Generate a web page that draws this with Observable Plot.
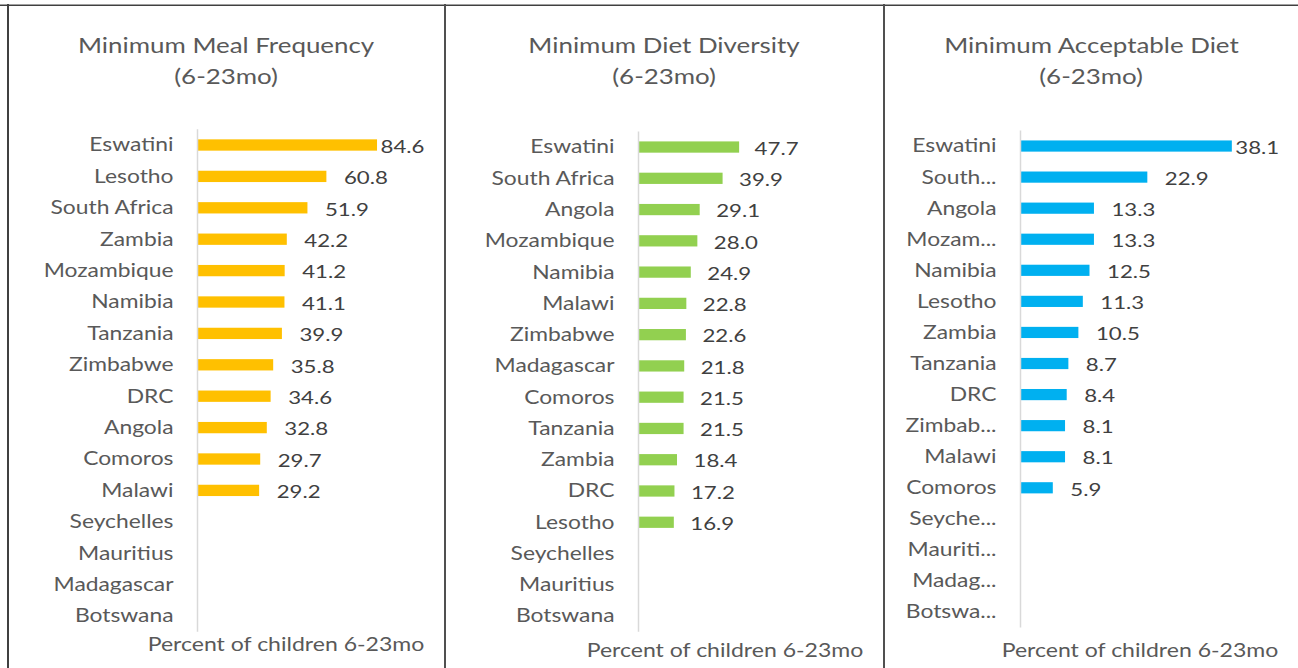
<!DOCTYPE html>
<html>
<head>
<meta charset="utf-8">
<script src="https://cdn.jsdelivr.net/npm/d3@7"></script>
<script src="https://cdn.jsdelivr.net/npm/@observablehq/plot@0.6"></script>
<style>
  html, body { margin: 0; padding: 0; background: #fff; width: 1298px; height: 668px; overflow: hidden; }
  body { position: relative; font-family: Lato, "Open Sans", sans-serif; color: #595959; }
  .panel { position: absolute; top: 0; height: 668px; }
  .panel svg { position: absolute; left: 0; top: 0; }
  .title { position: absolute; left: 0; right: 0; top: 29px; text-align: center; font-size: 21px; line-height: 31px; color: #595959; }
  .title span { display: inline-block; transform: scaleX(1.233); white-space: nowrap; }
  .caption { position: absolute; font-size: 18.5px; color: #595959; white-space: nowrap; transform: translateX(-50%) scaleX(1.245); }
  .line { position: absolute; background: #444; }
</style>
</head>
<body>
<script>
// ---- Data ----
const mmfCountries = ["Eswatini","Lesotho","South Africa","Zambia","Mozambique","Namibia","Tanzania","Zimbabwe","DRC","Angola","Comoros","Malawi","Seychelles","Mauritius","Madagascar","Botswana"];
const mmfValues = [84.6,60.8,51.9,42.2,41.2,41.1,39.9,35.8,34.6,32.8,29.7,29.2,null,null,null,null];

const mddCountries = ["Eswatini","South Africa","Angola","Mozambique","Namibia","Malawi","Zimbabwe","Madagascar","Comoros","Tanzania","Zambia","DRC","Lesotho","Seychelles","Mauritius","Botswana"];
const mddValues = [47.7,39.9,29.1,28.0,24.9,22.8,22.6,21.8,21.5,21.5,18.4,17.2,16.9,null,null,null];

const madCountries = ["Eswatini","South Africa","Angola","Mozambique","Namibia","Lesotho","Zambia","Tanzania","DRC","Zimbabwe","Malawi","Comoros","Seychelles","Mauritius","Madagascar","Botswana"];
const madTickLabels = ["Eswatini","South...","Angola","Mozam...","Namibia","Lesotho","Zambia","Tanzania","DRC","Zimbab...","Malawi","Comoros","Seyche...","Mauriti...","Madag...","Botswa..."];
const madValues = [38.1,22.9,13.3,13.3,12.5,11.3,10.5,8.7,8.4,8.1,8.1,5.9,null,null,null,null];

const titles = ["Minimum Meal Frequency", "Minimum Diet Diversity", "Minimum Acceptable Diet"];
const subtitle = "(6-23mo)";
const axisLabel = "Percent of children 6-23mo";

const panels = [
  {countries: mmfCountries, values: mmfValues, ticks: null, color: "#FFC000", title: titles[0],
   left: 8, width: 436, marginLeft: 189, xmax: 100, marginTop: 129.3, marginBottom: 36.3, topDx: 3, dx: 17, capX: 286, capY: 633},
  {countries: mddCountries, values: mddValues, ticks: null, color: "#92D050", title: titles[1],
   left: 445, width: 438, marginLeft: 193, xmax: 100, marginTop: 131.4, marginBottom: 36.3, topDx: 15, dx: 16, capX: 725, capY: 639},
  {countries: madCountries, values: madValues, ticks: madTickLabels, color: "#00B0F0", title: titles[2],
   left: 884, width: 414, marginLeft: 136, xmax: 40, marginTop: 130.5, marginBottom: 40.4, topDx: 3, dx: 17, capX: 1140, capY: 639}
];

const pxPerUnit = [2.128, 2.12, 5.56];
const TEXT_STRETCH = 1.235;

function stretchTexts(svg, s) {
  svg.querySelectorAll("text").forEach(t => {
    const tr = t.getAttribute("transform") || "";
    let x = 0;
    const xa = t.getAttribute("x");
    if (xa != null && /^-?[\d.]+$/.test(xa)) { x += +xa; t.removeAttribute("x"); }
    const dxa = t.getAttribute("dx");
    if (dxa != null && /^-?[\d.]+$/.test(dxa)) { x += +dxa; t.removeAttribute("dx"); }
    t.setAttribute("transform", `${tr} translate(${x},0) scale(${s},1)`);
  });
}

panels.forEach((p, i) => {
  const div = document.createElement("div");
  div.className = "panel";
  div.style.left = p.left + "px";
  div.style.width = p.width + "px";
  document.body.appendChild(div);

  const data = p.countries.map((c, k) => ({country: c, value: p.values[k], tick: p.ticks ? p.ticks[k] : c}));
  const withVal = data.filter(d => d.value != null);
  const maxVal = d3.max(withVal, d => d.value);
  const plotW = p.xmax * pxPerUnit[i];
  const marginRight = p.width - p.marginLeft - plotW;
  const tickMap = new Map(data.map(d => [d.country, d.tick]));

  const chart = Plot.plot({
    width: p.width,
    height: 668,
    marginLeft: p.marginLeft,
    marginRight: marginRight,
    marginTop: p.marginTop,
    marginBottom: p.marginBottom,
    style: {fontFamily: "Lato, 'Open Sans', sans-serif", fontSize: "18.5px", color: "#595959", background: "transparent", overflow: "visible"},
    x: {domain: [0, p.xmax], axis: null},
    y: {domain: p.countries, paddingInner: 0.64, paddingOuter: 0.32, round: false, label: null, tickSize: 0, tickPadding: 24,
        tickFormat: d => tickMap.get(d)},
    marks: [
      Plot.barX(withVal, {x: "value", y: "country", fill: p.color}),
      Plot.ruleX([0], {stroke: "#d9d9d9", strokeWidth: 1.5}),
      Plot.text(withVal.filter(d => d.value === maxVal), {x: "value", y: "country", text: d => d.value.toFixed(1),
        textAnchor: "start", dx: p.topDx, dy: 1.5, fill: "#404040", fontSize: 18}),
      Plot.text(withVal.filter(d => d.value !== maxVal), {x: "value", y: "country", text: d => d.value.toFixed(1),
        textAnchor: "start", dx: p.dx, dy: 1.5, fill: "#404040", fontSize: 18})
    ]
  });
  stretchTexts(chart, TEXT_STRETCH);
  div.appendChild(chart);

  const t = document.createElement("div");
  t.className = "title";
  t.innerHTML = "<span>" + p.title + "</span><br><span>" + subtitle + "</span>";
  div.appendChild(t);

  const cap = document.createElement("div");
  cap.className = "caption";
  cap.textContent = axisLabel;
  cap.style.left = (p.capX - p.left) + "px";
  cap.style.top = p.capY + "px";
  div.appendChild(cap);
});

// panel frame lines
function line(x, y, w, h, c) {
  const d = document.createElement("div");
  d.className = "line";
  Object.assign(d.style, {left: x + "px", top: y + "px", width: w + "px", height: h + "px", background: c});
  document.body.appendChild(d);
}
line(0, 4, 1298, 1, "#a0a0a0");
line(0, 5, 1298, 1, "#404040");
line(7, 4, 2, 664, "#404040");
line(444, 4, 2, 664, "#505050");
line(883, 4, 2, 664, "#505050");
</script>
</body>
</html>
